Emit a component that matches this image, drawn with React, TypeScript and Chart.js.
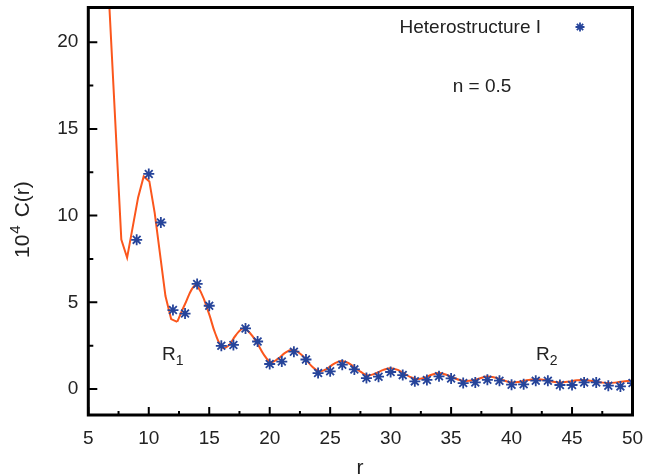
import React, { useEffect, useRef } from 'react';
import { Chart, registerables } from 'chart.js';

Chart.register(...registerables);

// ---------- data ----------
const rPoints = [9, 10, 11, 12, 13, 14, 15, 16, 17, 18, 19, 20, 21, 22, 23, 24, 25, 26, 27, 28, 29, 30,
  31, 32, 33, 34, 35, 36, 37, 38, 39, 40, 41, 42, 43, 44, 45, 46, 47, 48, 49, 50];
const cPoints = [8.6, 12.4, 9.6, 4.55, 4.35, 6.06, 4.8, 2.49, 2.54, 3.49, 2.74, 1.44, 1.58, 2.15, 1.7, 0.92,
  1.02, 1.4, 1.13, 0.63, 0.71, 0.98, 0.8, 0.44, 0.52, 0.73, 0.61, 0.34, 0.38, 0.53, 0.48, 0.25, 0.27,
  0.48, 0.48, 0.23, 0.23, 0.38, 0.38, 0.19, 0.15, 0.34];

// fitted curve, coarse (straight segments) part
const lineEarlyR = [6.6, 7.73, 8.21, 9.12, 9.58, 10.05, 10.49, 11.38, 11.85, 12.35];
const lineEarlyC = [24.0, 8.62, 7.57, 11.05, 12.26, 11.97, 10.16, 5.36, 4.03, 3.87];

// fitted curve, smooth part
const lineR = [12.35, 13.0, 13.8, 14.3, 15.0, 15.5, 16.1, 16.6, 17.2, 17.8, 18.4, 19.0, 19.5, 20.1, 20.7,
  21.3, 21.9, 22.5, 23.0, 23.5, 24.1, 24.7, 25.3, 25.9, 26.5, 27.0, 27.5, 28.1, 28.7, 29.4, 30.0, 30.6,
  31.1, 31.6, 32.2, 32.8, 33.4, 34.0, 34.6, 35.2, 35.7, 36.2, 36.8, 37.4, 38.0, 38.6, 39.3, 40.0, 40.7,
  41.4, 42.0, 42.7, 43.4, 44.0, 44.7, 45.4, 46.0, 46.7, 47.4, 48.0, 48.7, 49.4, 50.0];
const lineC = [3.87, 4.9, 5.96, 5.6, 4.3, 3.2, 2.38, 2.5, 3.1, 3.49, 3.2, 2.6, 2.0, 1.55, 1.75,
  2.1, 2.26, 2.05, 1.7, 1.3, 1.02, 1.15, 1.45, 1.62, 1.5, 1.25, 1.0, 0.78, 0.88, 1.1, 1.2, 1.1,
  0.9, 0.7, 0.58, 0.65, 0.82, 0.92, 0.82, 0.65, 0.52, 0.46, 0.5, 0.62, 0.72, 0.66, 0.5, 0.38, 0.42,
  0.52, 0.57, 0.52, 0.42, 0.38, 0.42, 0.5, 0.52, 0.46, 0.38, 0.34, 0.38, 0.45, 0.48];

const xTicks = [5, 10, 15, 20, 25, 30, 35, 40, 45, 50];
const xMinorTicks = [7.5, 12.5, 17.5, 22.5, 27.5, 32.5, 37.5, 42.5, 47.5];
const yTicks = [0, 5, 10, 15, 20];
const yMinorTicks = [2.5, 7.5, 12.5, 17.5];

const seriesLabel = 'Heterostructure I';
const noteText = 'n = 0.5';

// ---------- style ----------
const FONT = "'Liberation Sans', Arial, Helvetica, sans-serif";
const TEXT = '#222222';
const BLUE = '#26449a';
const ORANGE = '#fb561c';

function drawAsterisk(ctx: CanvasRenderingContext2D, x: number, y: number, r: number) {
  ctx.save();
  ctx.strokeStyle = BLUE;
  ctx.lineWidth = 1.8;
  ctx.beginPath();
  for (let k = 0; k < 4; k++) {
    const a = (k * Math.PI) / 4;
    ctx.moveTo(x - r * Math.cos(a), y - r * Math.sin(a));
    ctx.lineTo(x + r * Math.cos(a), y + r * Math.sin(a));
  }
  ctx.stroke();
  ctx.restore();
}

const framePlugin = {
  id: 'framePlugin',
  afterDraw(chart: any) {
    const ctx: CanvasRenderingContext2D = chart.ctx;
    const { left, right, top, bottom } = chart.chartArea;
    const xs = chart.scales.x;
    const ys = chart.scales.y;
    ctx.save();
    // ticks (inward)
    ctx.strokeStyle = '#000';
    ctx.lineWidth = 2;
    ctx.beginPath();
    xTicks.forEach((v) => {
      const px = xs.getPixelForValue(v);
      ctx.moveTo(px, bottom);
      ctx.lineTo(px, bottom - 8);
    });
    xMinorTicks.forEach((v) => {
      const px = xs.getPixelForValue(v);
      ctx.moveTo(px, bottom);
      ctx.lineTo(px, bottom - 4);
    });
    yTicks.forEach((v) => {
      const py = ys.getPixelForValue(v);
      ctx.moveTo(left, py);
      ctx.lineTo(left + 9, py);
    });
    yMinorTicks.forEach((v) => {
      const py = ys.getPixelForValue(v);
      ctx.moveTo(left, py);
      ctx.lineTo(left + 5, py);
    });
    ctx.stroke();
    // frame
    ctx.lineWidth = 3;
    ctx.strokeRect(left, top, right - left, bottom - top);

    // texts
    ctx.fillStyle = TEXT;
    ctx.textBaseline = 'alphabetic';
    ctx.font = `19px ${FONT}`;
    ctx.textAlign = 'right';
    ctx.fillText(seriesLabel, 541, 33);
    drawAsterisk(ctx, 580, 27, 4.5);
    ctx.textAlign = 'center';
    ctx.fillText(noteText, 482, 92);

    // R1, R2 with subscripts
    const drawSub = (base: string, sub: string, x: number, y: number) => {
      ctx.textAlign = 'left';
      ctx.font = `19px ${FONT}`;
      ctx.fillText(base, x, y);
      const w = ctx.measureText(base).width;
      ctx.font = `14px ${FONT}`;
      ctx.fillText(sub, x + w, y + 5);
    };
    drawSub('R', '1', 162, 360);
    drawSub('R', '2', 536, 360);

    // y title
    ctx.save();
    ctx.translate(29, 258);
    ctx.rotate(-Math.PI / 2);
    ctx.textAlign = 'left';
    ctx.font = `21px ${FONT}`;
    ctx.fillText('10', 0, 0);
    const w10 = ctx.measureText('10').width;
    ctx.font = `15px ${FONT}`;
    ctx.fillText('4', w10 + 1, -9);
    const w4 = ctx.measureText('4').width;
    ctx.font = `21px ${FONT}`;
    ctx.fillText('C(r)', w10 + w4 + 9, 0);
    ctx.restore();

    // x title
    ctx.textAlign = 'center';
    ctx.font = `21px ${FONT}`;
    ctx.fillText('r', 360, 474);
    ctx.restore();
  },
};

export default function App() {
  const ref = useRef<HTMLCanvasElement>(null);
  useEffect(() => {
    const canvas = ref.current;
    if (!canvas) return;
    const chart = new Chart(canvas, {
      type: 'scatter',
      data: {
        datasets: [
          {
            label: seriesLabel,
            data: rPoints.map((r, i) => ({ x: r, y: cPoints[i] })),
            showLine: false,
            pointStyle: 'star',
            pointRadius: 5.5,
            pointBorderWidth: 1.8,
            borderColor: BLUE,
            backgroundColor: BLUE,
            order: 0,
          },
          {
            label: 'fit-early',
            data: lineEarlyR.map((r, i) => ({ x: r, y: lineEarlyC[i] })),
            showLine: true,
            pointRadius: 0,
            borderColor: ORANGE,
            borderWidth: 2,
            tension: 0,
            order: 1,
          },
          {
            label: 'fit',
            data: lineR.map((r, i) => ({ x: r, y: lineC[i] })),
            showLine: true,
            pointRadius: 0,
            borderColor: ORANGE,
            borderWidth: 2,
            tension: 0.4,
            order: 1,
          },
        ],
      },
      options: {
        responsive: false,
        animation: false,
        devicePixelRatio: 1,
        layout: { padding: { top: 7.5, right: 13.5, left: 0, bottom: 0 } },
        plugins: {
          legend: { display: false },
          tooltip: { enabled: false },
        },
        scales: {
          x: {
            type: 'linear',
            min: 5,
            max: 50,
            afterBuildTicks: (s: any) => {
              s.ticks = xTicks.map((v) => ({ value: v }));
            },
            afterFit: (s: any) => {
              s.height = 60;
              s.paddingLeft = 0;
              s.paddingRight = 0;
            },
            grid: { display: false, drawTicks: false },
            border: { display: false },
            ticks: {
              padding: 12,
              color: TEXT,
              font: { family: FONT, size: 19 },
              maxRotation: 0,
            },
          },
          y: {
            type: 'linear',
            min: -1.5,
            max: 22,
            afterBuildTicks: (s: any) => {
              s.ticks = yTicks.map((v) => ({ value: v }));
            },
            afterFit: (s: any) => {
              s.width = 88.3;
              s.paddingTop = 0;
              s.paddingBottom = 0;
            },
            grid: { display: false, drawTicks: false },
            border: { display: false },
            ticks: {
              padding: 10,
              color: TEXT,
              font: { family: FONT, size: 19 },
            },
          },
        },
      },
      plugins: [framePlugin],
    });
    return () => chart.destroy();
  }, []);

  return (
    <div style={{ position: 'absolute', left: 0, top: 0, width: 646, height: 475, background: '#fff' }}>
      <canvas ref={ref} width={646} height={475} style={{ display: 'block' }} />
    </div>
  );
}
